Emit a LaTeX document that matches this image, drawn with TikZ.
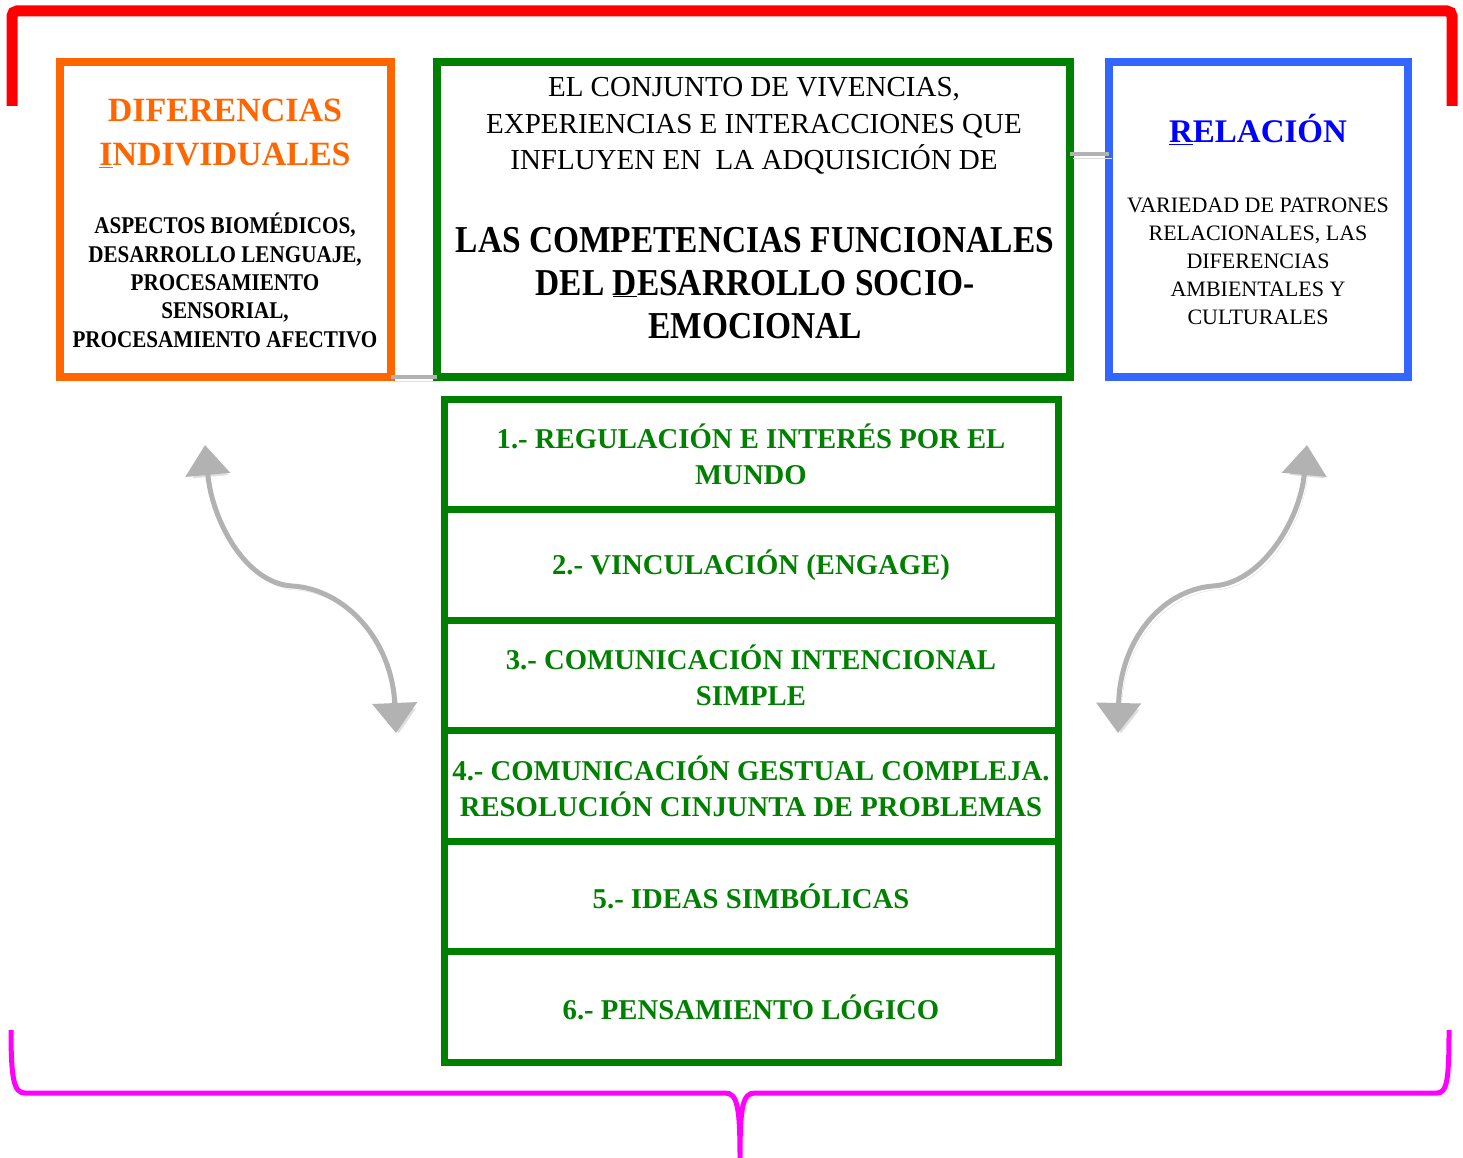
\documentclass[tikz,border=0pt]{standalone}
\usepackage{fontspec}
\setmainfont{Liberation Serif}
\newfontfamily\narrowfont{Liberation Serif}[FakeStretch=0.88]
\usetikzlibrary{arrows.meta,positioning}
\definecolor{dforange}{HTML}{FF6600}
\definecolor{dfgreen}{HTML}{008000}
\definecolor{dfblue}{HTML}{3366FF}
\definecolor{dfred}{HTML}{FF0000}
\definecolor{dfpink}{HTML}{FF00FF}
\tikzset{
  shadowed/.style={preaction={draw=black!13,transform canvas={shift={(3pt,-4pt)}}}},
  swing/.style={shadowed,draw=black!30,line width=5pt,
    {Triangle[width=44pt,length=30pt]}-{Triangle[width=44pt,length=30pt]}}
}
\begin{document}
\begin{tikzpicture}[x=1pt,y=-1pt,
    bigbox/.style={draw,line width=8pt,minimum height=315pt,inner sep=0pt,outer sep=0pt},
    rowbox/.style={draw=dfgreen,line width=7pt,minimum width=614pt,minimum height=110.5pt,
      inner sep=2pt,outer sep=0pt,text=dfgreen,align=center,
      font=\fontsize{28.7}{36}\selectfont\bfseries},
    txt/.style={align=center,inner sep=0pt,anchor=base},
    link/.style={shadowed,draw=black!30,line width=4pt}
  ]
\useasboundingbox (0,0) rectangle (1463,1158);

% top bracket
\draw[dfred,line width=11pt,rounded corners=5pt] (12,106) -- (12,11) -- (1452,11) -- (1452,106);

% three boxes
\node[bigbox,draw=dforange,minimum width=331pt] (difbox) at (225.5,219.5) {};
\node[bigbox,draw=dfgreen,minimum width=633pt] (compbox) at (753.5,219.5) {};
\node[bigbox,draw=dfblue,minimum width=299pt] (relbox) at (1258.5,219.5) {};

\node[txt,text=dforange,font=\fontsize{34}{44}\selectfont\bfseries] (diftit) at (225,166)
  {DIFERENCIAS\\\underline{I}NDIVIDUALES};
\node[txt,font=\narrowfont\fontsize{24}{28.3}\selectfont\bfseries] (difsub) at (225,347)
  {ASPECTOS BIOMÉDICOS,\\DESARROLLO LENGUAJE,\\PROCESAMIENTO\\SENSORIAL,\\PROCESAMIENTO AFECTIVO};

\node[txt,font=\fontsize{29}{36.5}\selectfont] (comptop) at (754,170)
  {EL CONJUNTO DE VIVENCIAS,\\EXPERIENCIAS E INTERACCIONES QUE\\INFLUYEN EN\ \ LA ADQUISICIÓN DE};
\node[txt,font=\narrowfont\fontsize{38}{43}\selectfont\bfseries] (comptit) at (755,338)
  {LAS COMPETENCIAS FUNCIONALES\\DEL \underline{D}ESARROLLO SOCIO-\\EMOCIONAL};

\node[txt,text=blue,font=\fontsize{33}{40}\selectfont\bfseries] (reltit) at (1258,143) {\underline{R}ELACIÓN};
\node[txt,font=\fontsize{22}{28}\selectfont] (relsub) at (1258,324)
  {VARIEDAD DE PATRONES\\RELACIONALES, LAS\\DIFERENCIAS\\AMBIENTALES Y\\CULTURALES};

\draw[link] (difbox.south east) -- (compbox.south west);
\draw[link] ([yshift=65.5pt]compbox.east) -- ([yshift=65.5pt]relbox.west);

% the six competences
\node[rowbox] (r1) at (751,454.5) {1.- REGULACIÓN E INTERÉS POR EL\\MUNDO};
\node[rowbox,below=0pt of r1] (r2) {2.- VINCULACIÓN (ENGAGE)};
\node[rowbox,below=0pt of r2] (r3) {3.- COMUNICACIÓN INTENCIONAL\\SIMPLE};
\node[rowbox,below=0pt of r3] (r4) {4.- COMUNICACIÓN GESTUAL COMPLEJA.\\RESOLUCIÓN CINJUNTA DE PROBLEMAS};
\node[rowbox,below=0pt of r4] (r5) {5.- IDEAS SIMBÓLICAS};
\node[rowbox,below=0pt of r5] (r6) {6.- PENSAMIENTO LÓGICO};

% curved double arrows
\coordinate (lt) at (205,445);
\coordinate (lm) at (292,586);
\coordinate (lb) at (396,733);
\coordinate (rt) at (1307,445);
\coordinate (rm) at (1213,586);
\coordinate (rb) at (1118,733);
\draw[swing] (lt) .. controls (212,520) and (245,583) .. (lm)
  .. controls (345,589) and (392,640) .. (lb);
\draw[swing] (rt) .. controls (1300,520) and (1262,583) .. (rm)
  .. controls (1162,590) and (1120,640) .. (rb);

% bottom brace
\draw[shadowed,dfpink,line width=5pt] (11,1030) .. controls (11,1080) and (14,1093) .. (25,1093)
  -- (725,1093) .. controls (737,1093) and (740,1105) .. (740,1158)
  .. controls (740,1105) and (743,1093) .. (755,1093)
  -- (1437,1093) .. controls (1447,1093) and (1449,1080) .. (1449,1030);
\end{tikzpicture}
\end{document}
